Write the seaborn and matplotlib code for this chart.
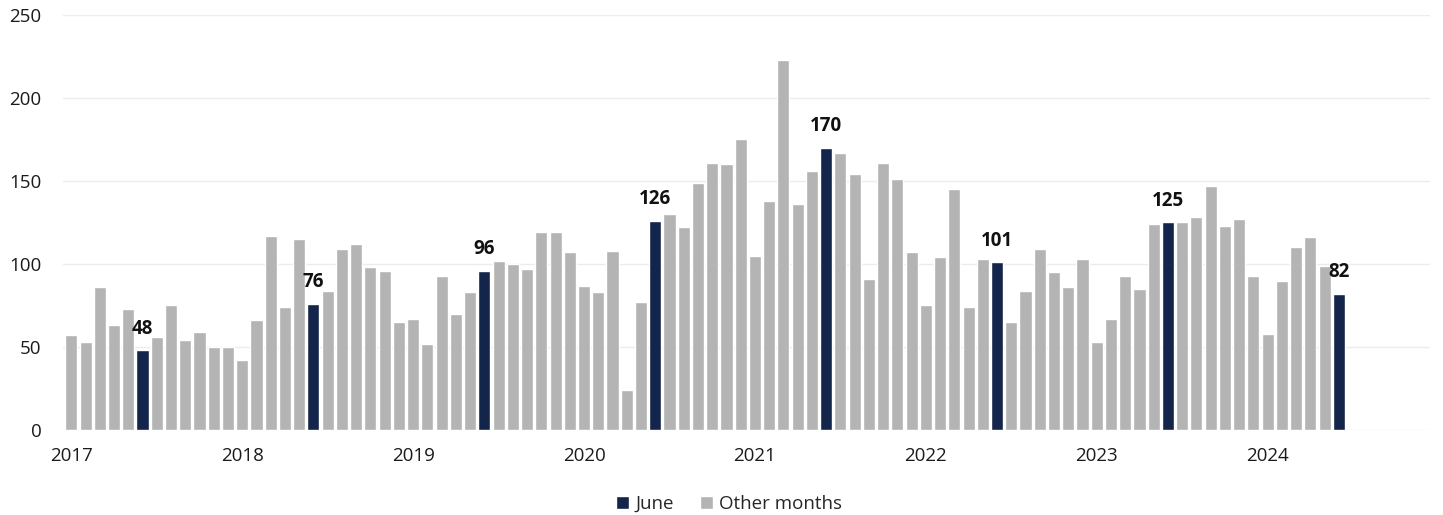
import numpy as np
import pandas as pd
import matplotlib
matplotlib.use("Agg")
import matplotlib.pyplot as plt
import seaborn as sns

years = ["2017", "2018", "2019", "2020", "2021", "2022", "2023", "2024"]
values_2017 = [57, 53, 86, 63, 73, 48, 56, 75, 54, 59, 50, 50]
values_2018 = [42, 66, 117, 74, 115, 76, 84, 109, 112, 98, 96, 65]
values_2019 = [67, 52, 93, 70, 83, 96, 102, 100, 97, 119, 119, 107]
values_2020 = [87, 83, 108, 24, 77, 126, 130, 122, 149, 161, 160, 175]
values_2021 = [105, 138, 223, 136, 156, 170, 167, 154, 91, 161, 151, 107]
values_2022 = [75, 104, 145, 74, 103, 101, 65, 84, 109, 95, 86, 103]
values_2023 = [53, 67, 93, 85, 124, 125, 125, 128, 147, 123, 127, 93]
values_2024 = [58, 90, 110, 116, 99, 82]
series_labels = ["June", "Other months"]

values = (values_2017 + values_2018 + values_2019 + values_2020 + values_2021
          + values_2022 + values_2023 + values_2024)
n = len(values)
month = [i % 12 for i in range(n)]
df = pd.DataFrame({
    "pos": np.arange(n),
    "value": values,
    "group": [series_labels[0] if m == 5 else series_labels[1] for m in month],
})

sns.set_theme(style="white")
plt.rcParams["font.family"] = ["Open Sans", "DejaVu Sans"]

fig = plt.figure(figsize=(14.43, 5.15), dpi=100)
ax = fig.add_axes([0.044, 0.165, 0.947, 0.806])

palette = {"June": "#13254a", "Other months": "#b4b4b4"}
sns.barplot(data=df, x="pos", y="value", hue="group", hue_order=series_labels,
            palette=palette, dodge=False, native_scale=True, width=0.85,
            saturation=1, ax=ax, legend=True)

ax.set_xlim(-0.55, 95.4)
ax.set_ylim(0, 250)
ax.set_yticks([0, 50, 100, 150, 200, 250])
ax.set_xticks([12 * i for i in range(len(years))])
ax.set_xticklabels(years)
ax.tick_params(axis="both", labelsize=13.5, colors="#1a1a1a", length=0)
ax.tick_params(axis="x", pad=12)
ax.tick_params(axis="y", pad=16)
ax.yaxis.grid(True, color="#ececec", linewidth=1)
ax.set_axisbelow(True)
for s in ax.spines.values():
    s.set_visible(False)
ax.set_xlabel("")
ax.set_ylabel("")

for p, v, g in zip(df["pos"], df["value"], df["group"]):
    if g == "June":
        ax.text(p, v + 7, str(v), ha="center", va="bottom", fontsize=13.5,
                fontweight="bold", color="#111111")

leg = ax.legend(loc="upper center", bbox_to_anchor=(0.487, -0.115), ncol=2,
                frameon=False, fontsize=13.5, handlelength=0.7, handleheight=0.7,
                handletextpad=0.3, columnspacing=1.4)

fig.savefig("out.png", dpi=100)
